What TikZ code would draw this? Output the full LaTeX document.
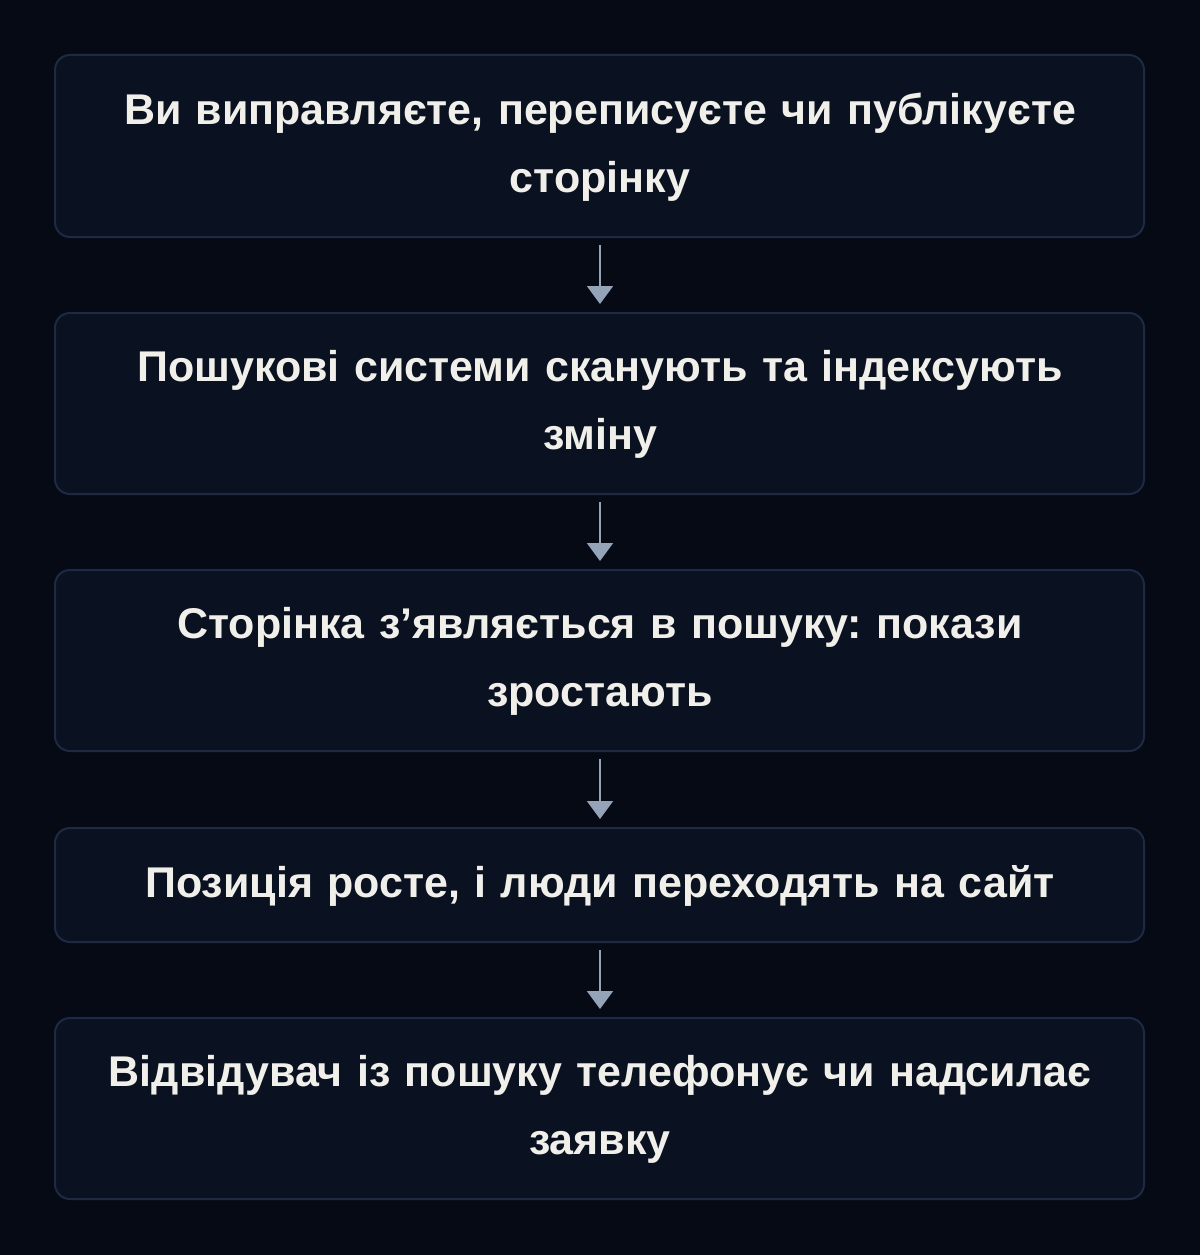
\documentclass[tikz,border=0pt]{standalone}
\usepackage{fontspec}
\setmainfont{Liberation Sans}
\usetikzlibrary{arrows.meta}
\definecolor{bgc}{HTML}{050A14}
\definecolor{boxfill}{HTML}{0A1120}
\definecolor{boxline}{HTML}{1E2A44}
\definecolor{txt}{HTML}{F1EFEA}
\definecolor{arr}{HTML}{94A3B8}
\tikzset{
  stepbox/.style={draw=boxline, line width=2pt, fill=boxfill, rounded corners=15pt},
  steptext/.style={text=txt, font=\fontsize{43}{68}\selectfont\bfseries\frenchspacing, align=center, text width=1060pt},
  flowarrow/.style={draw=arr, line width=2pt, -{Triangle[length=18pt,width=26pt]}}
}
\begin{document}
\begin{tikzpicture}[x=1pt,y=-1pt]
\fill[bgc] (0,0) rectangle (1200,1255);
\useasboundingbox (0,0) rectangle (1200,1255);
\draw[stepbox] (55,55) rectangle (1144,237);
\draw[stepbox] (55,313) rectangle (1144,494);
\draw[stepbox] (55,570) rectangle (1144,751);
\draw[stepbox] (55,828) rectangle (1144,942);
\draw[stepbox] (55,1018) rectangle (1144,1199);
\node[steptext] (s1) at (600,147) {Ви виправляєте, переписуєте чи публікуєте\\сторінку};
\node[steptext] (s2) at (600,404.5) {Пошукові системи сканують та індексують\\зміну};
\node[steptext] (s3) at (600,661.5) {Сторінка з’являється в пошуку: покази\\зростають};
\node[steptext] (s4) at (600,886) {Позиція росте, і люди переходять на сайт};
\node[steptext] (s5) at (600,1109.5) {Відвідувач із пошуку телефонує чи надсилає\\заявку};
\coordinate (a1s) at (600,245); \coordinate (a1e) at (600,304);
\coordinate (a2s) at (600,502); \coordinate (a2e) at (600,561);
\coordinate (a3s) at (600,759); \coordinate (a3e) at (600,819);
\coordinate (a4s) at (600,950); \coordinate (a4e) at (600,1009);
\draw[flowarrow] (a1s) -- (a1e);
\draw[flowarrow] (a2s) -- (a2e);
\draw[flowarrow] (a3s) -- (a3e);
\draw[flowarrow] (a4s) -- (a4e);
\end{tikzpicture}
\end{document}
